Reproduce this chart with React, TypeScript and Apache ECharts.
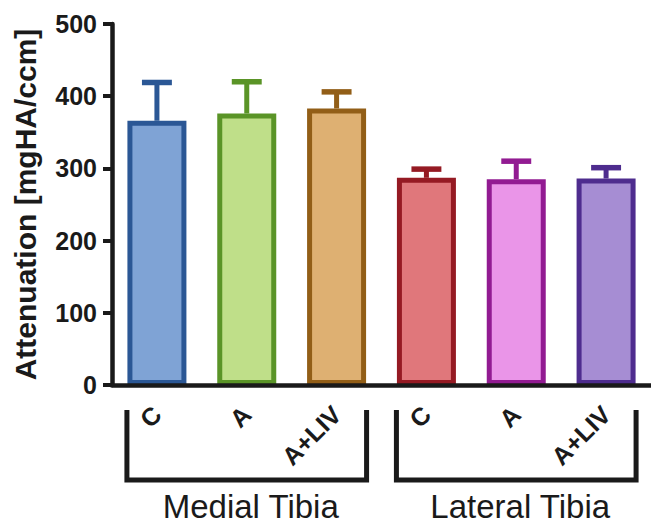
import React, { useEffect, useRef } from "react";
import * as echarts from "echarts";

const categories = ["C", "A", "A+LIV", "C", "A", "A+LIV"];
const means = [366, 376, 383, 287, 285, 286];
const errors = [53, 44, 23, 12, 25, 15];
const groupNames = ["Medial Tibia", "Lateral Tibia"];
const groupFirst = [0, 3];
const groupLast = [2, 5];
const fillColors = ["#7fa3d5", "#bfdf89", "#deb072", "#e0777b", "#ea95e8", "#a68dd3"];
const borderColors = ["#2b5795", "#5a9427", "#925e17", "#951a23", "#921b92", "#4e2c8e"];
const yMin = 0;
const yMax = 500;
const yInterval = 100;
const yName = "Attenuation [mgHA/ccm]";

const FONT = "'Liberation Sans', Arial, Helvetica, sans-serif";
const INK = "#1a1a1a";

export default function App() {
  const ref = useRef<HTMLDivElement>(null);
  useEffect(() => {
    document.body.style.margin = "0";
    const chart = echarts.init(ref.current!, undefined, { renderer: "svg" });
    chart.setOption({
      animation: false,
      grid: { left: 112, right: -3, top: 24, bottom: 138 },
      xAxis: {
        type: "category",
        data: categories,
        z: 5,
        axisLine: { lineStyle: { color: INK, width: 4.5 } },
        axisTick: { alignWithLabel: true, length: 8, lineStyle: { color: INK, width: 4 } },
        axisLabel: {
          interval: 0,
          rotate: 45,
          margin: 25,
          fontSize: 25,
          fontWeight: "bold",
          color: INK,
          fontFamily: FONT,
        },
      },
      yAxis: {
        type: "value",
        min: yMin,
        max: yMax,
        interval: yInterval,
        name: yName,
        nameLocation: "middle",
        nameGap: 72,
        nameTextStyle: { fontSize: 30, fontWeight: "bold", color: INK, fontFamily: FONT },
        axisLine: { show: true, lineStyle: { color: INK, width: 4.5 } },
        axisTick: { show: true, length: 9, lineStyle: { color: INK, width: 4 } },
        axisLabel: { margin: 15, fontSize: 25, fontWeight: "bold", color: INK, fontFamily: FONT },
        splitLine: { show: false },
      },
      series: [
        {
          type: "custom",
          z: 1,
          data: means.map((m, i) => [i, m, errors[i]]),
          renderItem: (params: any, api: any) => {
            const i = api.value(0);
            const m = api.value(1);
            const e = api.value(2);
            const base = api.coord([i, m]);
            const top = api.coord([i, m + e]);
            const band = api.size([1, 0])[0];
            const capHalf = band / 6;
            const color = borderColors[params.dataIndex];
            return {
              type: "group",
              children: [
                { type: "line", shape: { x1: base[0], y1: base[1], x2: top[0], y2: top[1] }, style: { stroke: color, lineWidth: 5 } },
                { type: "line", shape: { x1: top[0] - capHalf, y1: top[1], x2: top[0] + capHalf, y2: top[1] }, style: { stroke: color, lineWidth: 5.5 } },
              ],
            };
          },
        },
        {
          type: "bar",
          barWidth: 59,
          z: 2,
          data: means.map((m, i) => ({
            value: m,
            itemStyle: { color: fillColors[i], borderColor: borderColors[i], borderWidth: 5 },
          })),
        },
      ],
    });

    const graphics: any[] = [];
    groupNames.forEach((name, g) => {
      const x0 = chart.convertToPixel({ xAxisIndex: 0 }, groupFirst[g]) as number;
      const x1 = chart.convertToPixel({ xAxisIndex: 0 }, groupLast[g]) as number;
      const l = x0 - 30;
      const r = x1 + 30;
      graphics.push({
        type: "polyline",
        shape: { points: [[l, 410], [l, 480], [r, 480], [r, 410]] },
        style: { stroke: INK, lineWidth: 5, fill: null, lineJoin: "miter" },
      });
      graphics.push({
        type: "text",
        x: (l + r) / 2 + 4,
        y: 506,
        style: {
          text: name,
          fontSize: 33,
          fontFamily: FONT,
          fill: INK,
          align: "center",
          verticalAlign: "middle",
        },
      });
    });
    chart.setOption({ graphic: graphics });

    return () => chart.dispose();
  }, []);
  return <div ref={ref} style={{ width: 651, height: 523 }} />;
}
